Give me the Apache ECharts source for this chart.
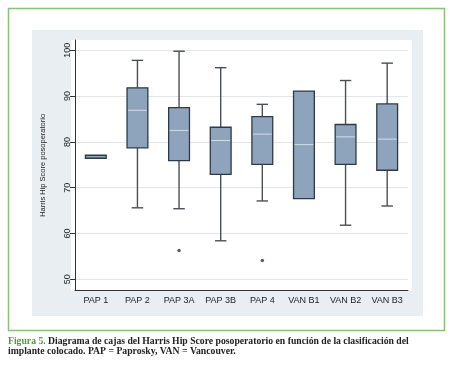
<!DOCTYPE html>
<html>
<head>
<meta charset="utf-8">
<script src="https://cdn.jsdelivr.net/npm/echarts@6/dist/echarts.min.js"></script>
<style>html,body{margin:0;padding:0;background:#fff}#c{width:453px;height:369px}</style>
</head>
<body>
<div id="c"></div>
<script>
// Categories and box statistics
var categories = ['PAP 1', 'PAP 2', 'PAP 3A', 'PAP 3B', 'PAP 4', 'VAN B1', 'VAN B2', 'VAN B3'];
var lowerWhisker = [76.5, 65.6, 65.4, 58.4, 67.1, 67.6, 61.8, 66.0];
var q1Values     = [76.5, 78.7, 75.9, 72.9, 75.1, 67.6, 75.1, 73.8];
var medianValues = [76.7, 86.9, 82.5, 80.3, 81.7, 79.4, 81.1, 80.6];
var q3Values     = [77.0, 91.8, 87.5, 83.2, 85.5, 91.1, 83.8, 88.3];
var upperWhisker = [77.0, 97.8, 99.8, 96.2, 88.2, 91.1, 93.4, 97.2];
var outlierCats = ['PAP 3A', 'PAP 4'];
var outlierValues = [56.3, 54.1];
var yTicks = [50, 60, 70, 80, 90, 100];
var yAxisName = 'Harris Hip Score posoperatorio';
var captionLabel = 'Figura 5.';
var captionLine1 = ' Diagrama de cajas del Harris Hip Score posoperatorio en función de la clasificación del';
var captionLine2 = 'implante colocado. PAP = Paprosky, VAN = Vancouver.';

var boxData = categories.map(function (c, i) {
  return [i, lowerWhisker[i], q1Values[i], medianValues[i], q3Values[i], upperWhisker[i]];
});
var outlierData = outlierCats.map(function (c, i) { return [categories.indexOf(c), outlierValues[i]]; });

var chart = echarts.init(document.getElementById('c'), null, { renderer: 'canvas' });

function renderBox(params, api) {
  var x = api.value(0);
  var lo = api.coord([x, api.value(1)]);
  var b1 = api.coord([x, api.value(2)]);
  var md = api.coord([x, api.value(3)]);
  var b3 = api.coord([x, api.value(4)]);
  var hi = api.coord([x, api.value(5)]);
  var bw = api.size([1, 0])[0] * 0.5;
  var cw = bw * 0.55;
  var cx = lo[0];
  var wStyle = { stroke: '#4a4f55', lineWidth: 1.4 };
  var children = [];
  if (hi[1] < b3[1]) {
    children.push({ type: 'line', shape: { x1: cx, y1: b3[1], x2: cx, y2: hi[1] }, style: wStyle });
    children.push({ type: 'line', shape: { x1: cx - cw / 2, y1: hi[1], x2: cx + cw / 2, y2: hi[1] }, style: wStyle });
  }
  if (lo[1] > b1[1]) {
    children.push({ type: 'line', shape: { x1: cx, y1: b1[1], x2: cx, y2: lo[1] }, style: wStyle });
    children.push({ type: 'line', shape: { x1: cx - cw / 2, y1: lo[1], x2: cx + cw / 2, y2: lo[1] }, style: wStyle });
  }
  var h = Math.max(b1[1] - b3[1], 3);
  var top = Math.min(b3[1], (b1[1] + b3[1]) / 2 - h / 2);
  children.push({ type: 'rect', shape: { x: cx - bw / 2, y: top, width: bw, height: h },
    style: { fill: '#8ea3bc', stroke: '#2e3a48', lineWidth: 1.3 } });
  if (b1[1] - b3[1] > 6) {
    children.push({ type: 'line', shape: { x1: cx - bw / 2 + 1, y1: md[1], x2: cx + bw / 2 - 1, y2: md[1] },
      style: { stroke: '#d3dde8', lineWidth: 1 } });
  }
  return { type: 'group', children: children };
}

var option = {
  animation: false,
  backgroundColor: '#ffffff',
  graphic: [
    { type: 'rect', z: -10, shape: { x: 8.5, y: 8.5, width: 436, height: 322 },
      style: { fill: '#ffffff', stroke: '#8cbf78', lineWidth: 1.5 } },
    { type: 'rect', z: -9, shape: { x: 32, y: 30, width: 391, height: 286 },
      style: { fill: '#e9eef3' } },
    { type: 'rect', z: -8, shape: { x: 71, y: 40, width: 341, height: 251 },
      style: { fill: '#ffffff' } },
    { type: 'text', left: 8, top: 336, style: {
        rich: { g: { fill: '#4f9b3c', fontWeight: 'bold', fontFamily: 'Liberation Serif', fontSize: 9.7 },
                t: { fill: '#222222', fontFamily: 'Liberation Serif', fontSize: 9.7, fontWeight: 'bold' } },
        text: '{g|' + captionLabel + '}{t|' + captionLine1 + '}' } },
    { type: 'text', left: 8, top: 346, style: {
        text: captionLine2, fill: '#222222', fontFamily: 'Liberation Serif', fontSize: 9.7, fontWeight: 'bold' } }
  ],
  grid: { left: 75, right: 45, top: 40, bottom: 78.3, containLabel: false },
  xAxis: {
    type: 'category', data: categories, boundaryGap: true,
    axisLine: { show: true, lineStyle: { color: '#333', width: 1 } },
    axisTick: { show: false },
    axisLabel: { color: '#222', fontSize: 9, fontFamily: 'Liberation Sans', margin: 5 },
    splitLine: { show: false }
  },
  yAxis: {
    type: 'value', min: 47.5, max: 102.25,
    name: yAxisName, nameLocation: 'middle', nameGap: 28, nameRotate: 90,
    nameTextStyle: { color: '#222', fontSize: 7.5, fontFamily: 'Liberation Sans' },
    axisLine: { show: true, lineStyle: { color: '#333', width: 1 } },
    axisTick: { show: true, customValues: yTicks, length: 5, lineStyle: { color: '#333' } },
    axisLabel: { customValues: yTicks, rotate: 90, color: '#222', fontSize: 9, fontFamily: 'Liberation Sans', margin: 3 },
    splitLine: { show: false }
  },
  series: [
    { type: 'line', data: [], silent: true, z: 0,
      markLine: { silent: true, z: 0, symbol: 'none', label: { show: false },
        lineStyle: { color: '#e2e6ea', width: 1, type: 'solid' },
        data: yTicks.map(function (v) { return { yAxis: v }; }) } },
    { type: 'custom', renderItem: renderBox, data: boxData, z: 10,
      encode: { x: 0, y: [1, 2, 3, 4, 5] } },
    { type: 'scatter', data: outlierData, symbol: 'circle', symbolSize: 3.5, z: 11,
      itemStyle: { color: '#333' } }
  ]
};
chart.setOption(option);
</script>
</body>
</html>
